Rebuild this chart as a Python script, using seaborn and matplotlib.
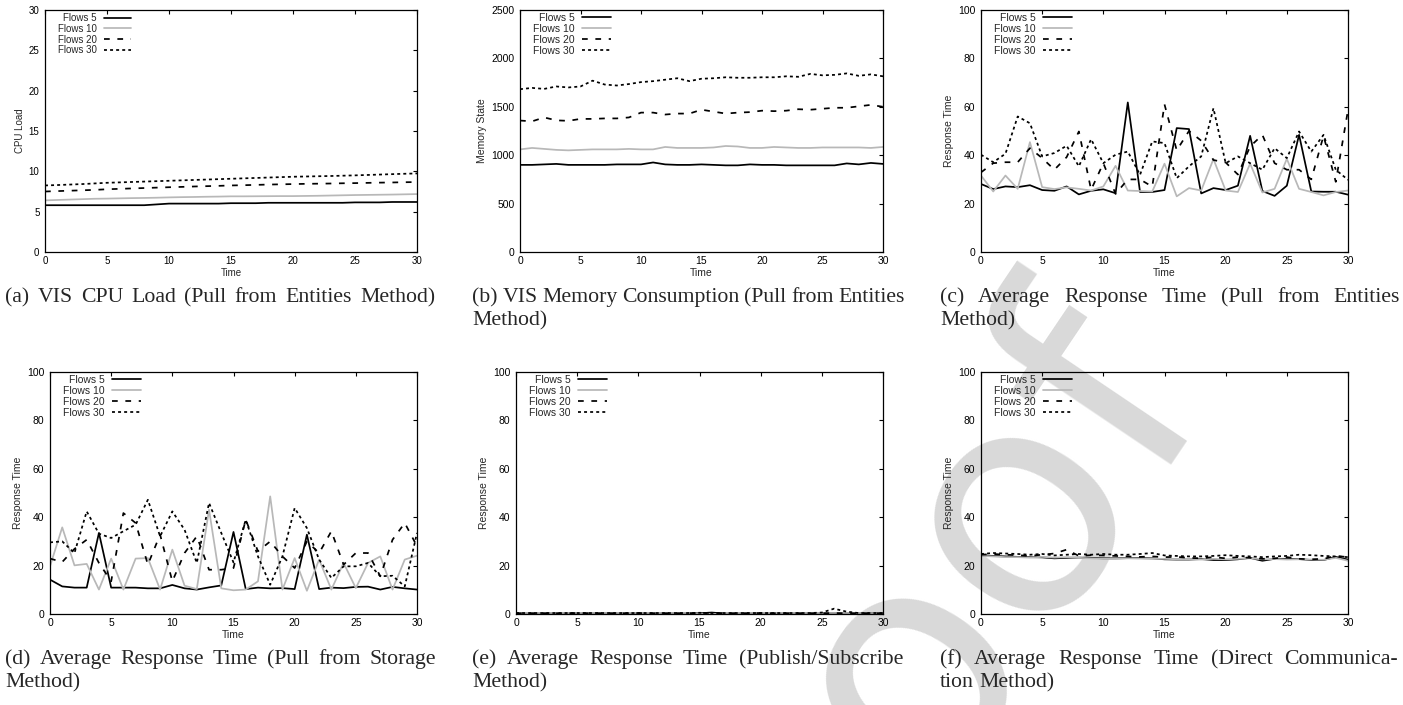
import matplotlib
matplotlib.use("Agg")
import matplotlib.pyplot as plt
import seaborn as sns
import pandas as pd

# ---------------- data ----------------
time = list(range(31))
series_names = ["Flows 5", "Flows 10", "Flows 20", "Flows 30"]

cpu_f5 = [5.8, 5.8, 5.8, 5.8, 5.8, 5.8, 5.8, 5.8, 5.8, 5.9, 6.0, 6.0, 6.0, 6.0, 6.0, 6.05,
          6.05, 6.05, 6.1, 6.1, 6.1, 6.1, 6.1, 6.1, 6.1, 6.15, 6.15, 6.15, 6.2, 6.2, 6.2]
cpu_f10 = [6.4, 6.45, 6.5, 6.55, 6.6, 6.62, 6.65, 6.68, 6.7, 6.73, 6.77, 6.8, 6.82, 6.85, 6.87,
           6.9, 6.9, 6.91, 6.92, 6.93, 6.93, 6.95, 6.97, 7.0, 7.03, 7.06, 7.08, 7.1, 7.12, 7.15, 7.18]
cpu_f20 = [7.5, 7.55, 7.6, 7.65, 7.7, 7.78, 7.83, 7.88, 7.93, 7.98, 8.03, 8.07, 8.12, 8.16, 8.2,
           8.25, 8.28, 8.32, 8.36, 8.39, 8.42, 8.45, 8.47, 8.49, 8.52, 8.54, 8.57, 8.6, 8.62, 8.65, 8.67]
cpu_f30 = [8.25, 8.3, 8.36, 8.42, 8.5, 8.58, 8.63, 8.68, 8.73, 8.78, 8.83, 8.88, 8.93, 8.98, 9.03,
           9.08, 9.13, 9.18, 9.23, 9.28, 9.33, 9.36, 9.39, 9.42, 9.46, 9.5, 9.55, 9.6, 9.65, 9.7, 9.74]

mem_f5 = [900, 900, 905, 910, 900, 900, 900, 900, 905, 905, 905, 925, 905, 900, 900, 905,
          900, 895, 895, 905, 900, 900, 895, 895, 895, 895, 895, 915, 905, 920, 910]
mem_f10 = [1060, 1075, 1065, 1055, 1050, 1055, 1060, 1060, 1060, 1065, 1060, 1060, 1085, 1075,
           1075, 1075, 1080, 1095, 1090, 1075, 1075, 1085, 1080, 1075, 1075, 1080, 1080, 1080,
           1080, 1075, 1085]
mem_f20 = [1358, 1350, 1390, 1360, 1355, 1375, 1375, 1380, 1380, 1390, 1440, 1440, 1420, 1430,
           1430, 1470, 1450, 1430, 1440, 1445, 1460, 1455, 1460, 1475, 1470, 1480, 1490, 1490,
           1505, 1520, 1500]
mem_f30 = [1682, 1695, 1685, 1710, 1700, 1710, 1770, 1730, 1720, 1735, 1755, 1765, 1780, 1795,
           1765, 1790, 1795, 1805, 1800, 1800, 1805, 1805, 1815, 1810, 1840, 1825, 1830, 1845,
           1820, 1835, 1815]

ent_f5 = [28.1, 26.0, 27.1, 26.8, 27.6, 25.6, 25.3, 27.1, 23.8, 25.3, 25.9, 24.3, 61.8, 24.8,
          24.8, 25.6, 51.2, 50.8, 24.2, 26.4, 25.6, 27.4, 48.0, 25.2, 23.2, 27.4, 48.4, 25.0,
          24.9, 24.9, 23.7]
ent_f10 = [31.6, 25.0, 31.6, 26.1, 45.4, 26.8, 26.0, 26.7, 26.1, 25.4, 27.1, 35.6, 25.4, 25.2,
           25.0, 36.5, 23.0, 26.4, 25.4, 38.4, 25.4, 24.8, 36.5, 24.6, 26.1, 38.5, 26.1, 24.8,
           23.4, 24.8, 25.4]
ent_f20 = [32.9, 36.7, 37.1, 37.1, 42.9, 38.8, 34.0, 39.2, 49.8, 25.7, 36.7, 24.0, 30.0, 30.0,
           27.0, 61.0, 42.0, 50.0, 46.0, 38.0, 37.0, 32.0, 43.6, 48.4, 36.7, 34.0, 34.0, 30.0,
           48.0, 29.0, 58.7]
ent_f30 = [40.2, 37.1, 40.6, 56.0, 53.2, 39.5, 40.9, 43.9, 35.4, 46.6, 36.7, 40.2, 41.5, 31.9,
           45.7, 45.0, 30.5, 35.4, 39.5, 59.4, 36.7, 39.5, 36.7, 34.0, 42.9, 38.8, 49.8, 41.5,
           48.4, 34.0, 29.8]

sto_f5 = [14.2, 11.4, 10.9, 10.9, 33.5, 10.9, 10.9, 10.9, 10.6, 10.6, 12.0, 10.6, 10.1, 11.0,
          11.8, 33.9, 10.3, 10.9, 10.6, 10.7, 10.3, 32.8, 10.3, 10.9, 10.7, 11.2, 11.3, 10.1,
          11.2, 10.6, 10.1]
sto_f10 = [19.7, 35.8, 20.1, 20.7, 10.1, 22.9, 10.1, 22.9, 23.1, 10.1, 26.6, 11.7, 10.3, 43.1,
           10.6, 9.8, 10.1, 13.5, 48.6, 10.1, 23.1, 9.6, 22.5, 10.1, 21.1, 10.7, 21.1, 23.8,
           10.1, 22.5, 24.1]
sto_f20 = [22.9, 21.5, 26.9, 30.7, 21.1, 13.5, 41.7, 37.6, 20.4, 32.8, 13.5, 25.2, 32.1, 18.3,
           18.3, 19.0, 39.0, 25.9, 30.0, 23.8, 19.0, 30.0, 25.2, 34.2, 20.4, 25.2, 25.2, 15.6,
           30.7, 37.6, 28.0]
sto_f30 = [29.6, 30.0, 25.2, 42.4, 33.2, 31.4, 34.2, 36.9, 47.2, 32.1, 42.4, 34.8, 21.1, 45.9,
           33.5, 21.3, 39.0, 23.8, 12.1, 23.8, 43.8, 35.5, 22.5, 14.9, 19.7, 19.7, 21.1, 15.6,
           15.8, 11.4, 33.5]

pub_f5 = [0.2, 0.2, 0.2, 0.2, 0.2, 0.2, 0.2, 0.2, 0.2, 0.2, 0.2, 0.2, 0.2, 0.2, 0.2, 0.3,
          0.6, 0.2, 0.2, 0.2, 0.2, 0.2, 0.2, 0.2, 0.2, 0.2, 0.2, 0.2, 0.2, 0.2, 0.2]
pub_f10 = [0.15, 0.15, 0.15, 0.15, 0.15, 0.15, 0.15, 0.15, 0.15, 0.15, 0.15, 0.15, 0.15, 0.15,
           0.15, 0.15, 0.15, 0.15, 0.15, 0.15, 0.15, 0.15, 0.15, 0.15, 0.15, 0.15, 0.15, 0.15,
           0.15, 0.15, 0.15]
pub_f20 = [0.3, 0.3, 0.3, 0.3, 0.3, 0.4, 0.3, 0.3, 0.3, 0.3, 0.4, 0.3, 0.3, 0.3, 0.3, 0.4,
           0.5, 0.3, 0.3, 0.3, 0.4, 0.3, 0.3, 0.3, 0.3, 0.3, 0.4, 0.3, 0.3, 0.3, 0.3]
pub_f30 = [0.4, 0.4, 0.4, 0.4, 0.4, 0.4, 0.4, 0.4, 0.4, 0.4, 0.4, 0.4, 0.4, 0.4, 0.4, 0.5,
           0.4, 0.4, 0.4, 0.4, 0.4, 0.4, 0.4, 0.4, 0.4, 0.6, 2.2, 1.0, 0.4, 0.4, 0.4]

dir_f5 = [24.2, 24.0, 23.8, 23.6, 23.5, 23.4, 23.0, 23.2, 23.3, 23.2, 23.0, 23.0, 23.1, 23.1,
          23.0, 22.6, 22.5, 22.5, 22.7, 22.3, 22.3, 22.6, 23.2, 22.0, 22.8, 22.8, 22.7, 22.3,
          22.3, 23.6, 22.5]
dir_f10 = [24.0, 23.8, 23.5, 23.5, 23.3, 23.6, 23.3, 23.5, 23.2, 23.0, 22.8, 22.8, 23.0, 22.9,
           22.8, 22.8, 22.6, 22.6, 22.5, 22.8, 22.6, 22.8, 23.0, 22.6, 22.7, 22.5, 22.6, 22.5,
           22.4, 23.2, 22.0]
dir_f20 = [24.5, 24.8, 24.5, 24.3, 24.0, 24.5, 25.0, 26.6, 24.0, 24.3, 24.2, 24.0, 23.8, 23.6,
           23.8, 23.5, 23.6, 23.2, 23.0, 23.5, 23.0, 23.5, 23.2, 22.8, 23.0, 23.5, 22.8, 22.6,
           22.8, 24.0, 23.5]
dir_f30 = [24.8, 25.2, 25.0, 24.8, 24.5, 24.8, 24.2, 24.5, 24.8, 24.5, 24.8, 24.5, 24.5, 24.8,
           25.2, 24.2, 24.0, 23.8, 23.8, 24.0, 24.3, 24.0, 23.8, 23.5, 23.8, 24.0, 24.5, 24.3,
           24.0, 23.8, 23.5]

x_ticks = [0, 5, 10, 15, 20, 25, 30]
cpu_ticks = [0, 5, 10, 15, 20, 25, 30]
mem_ticks = [0, 500, 1000, 1500, 2000, 2500]
rt_ticks = [0, 20, 40, 60, 80, 100]

captions = [
    ["(a) VIS CPU Load (Pull from Entities Method)"],
    ["(b) VIS Memory Consumption (Pull from Entities", "Method)"],
    ["(c) Average Response Time (Pull from Entities", "Method)"],
    ["(d) Average Response Time (Pull from Storage", "Method)"],
    ["(e) Average Response Time (Publish/Subscribe", "Method)"],
    ["(f) Average Response Time (Direct Communica-", "tion Method)"],
]

# ---------------- style ----------------
sns.set_style("white")
plt.rcParams["font.family"] = ["Liberation Sans", "DejaVu Sans"]
plt.rcParams["axes.linewidth"] = 0.9

palette = {"Flows 5": "#000000", "Flows 10": "#b8b8b8",
           "Flows 20": "#000000", "Flows 30": "#000000"}
dash_map = {"Flows 5": "", "Flows 10": "", "Flows 20": (3.3, 4.4), "Flows 30": (1.7, 1.8)}

W, H = 1403, 705
fig = plt.figure(figsize=(W / 100, H / 100), dpi=100)

# "Proof" watermark of the page
fig.text(750 / W, 1 - 1043 / H, "Proof", rotation=56, rotation_mode="anchor",
         ha="left", va="baseline", fontsize=228, color="#d9d9d9",
         family="DejaVu Sans", zorder=-5)


def make_df(cols):
    frames = []
    for name, vals in zip(series_names, cols):
        frames.append(pd.DataFrame({"Time": time, "Value": vals, "Series": name}))
    return pd.concat(frames, ignore_index=True)


panels = [
    ((45, 417, 10, 252), [cpu_f5, cpu_f10, cpu_f20, cpu_f30], "CPU Load", cpu_ticks, 7.0),
    ((520, 883, 10, 252), [mem_f5, mem_f10, mem_f20, mem_f30], "Memory State", mem_ticks, 7.5),
    ((981, 1348, 10, 252), [ent_f5, ent_f10, ent_f20, ent_f30], "Response Time", rt_ticks, 7.5),
    ((50, 417, 372, 614), [sto_f5, sto_f10, sto_f20, sto_f30], "Response Time", rt_ticks, 7.5),
    ((516, 883, 372, 614), [pub_f5, pub_f10, pub_f20, pub_f30], "Response Time", rt_ticks, 7.5),
    ((981, 1348, 372, 614), [dir_f5, dir_f10, dir_f20, dir_f30], "Response Time", rt_ticks, 7.5),
]

for (l, r, t, b), cols, ylab, yt, fs in panels:
    ax = fig.add_axes([l / W, 1 - b / H, (r - l) / W, (b - t) / H])
    ax.set_facecolor("none")
    df = make_df(cols)
    sns.lineplot(data=df, x="Time", y="Value", hue="Series", style="Series",
                 hue_order=series_names, style_order=series_names,
                 palette=palette, dashes=dash_map, linewidth=1.25,
                 estimator=None, ax=ax, legend=False)
    ax.set_xlim(0, 30)
    ax.set_ylim(yt[0], yt[-1])
    ax.set_xticks(x_ticks)
    ax.set_yticks(yt)
    ax.tick_params(direction="in", top=True, right=True, length=3, width=0.8,
                   labelsize=fs, pad=3, colors="black")
    ax.tick_params(axis="y", pad=4)
    ax.set_xlabel("Time", fontsize=fs, labelpad=1)
    ax.set_ylabel(ylab, fontsize=fs, labelpad=3)
    for s in ax.spines.values():
        s.set_color("black")
    wpx, hpx = r - l, b - t
    ax.legend(ax.get_lines()[:4], series_names, loc="upper left",
              bbox_to_anchor=(13 / wpx, 1 - 3 / hpx), borderpad=0, borderaxespad=0,
              frameon=False, markerfirst=False, handlelength=2.8, handletextpad=0.7,
              labelspacing=0.08, fontsize=fs)

# ---------------- captions (justified like the paper) ----------------
renderer = fig.canvas.get_renderer()
serif = "Liberation Serif"

probe = fig.text(0, 0, captions[0][0], fontsize=16, family=serif)
fw = probe.get_window_extent(renderer).width
probe.remove()
cap_fs = 16 * 430 / fw * 0.955

sp = fig.text(0, 0, "a a", fontsize=cap_fs, family=serif)
sp2 = fig.text(0, 0, "aa", fontsize=cap_fs, family=serif)
space_w = sp.get_window_extent(renderer).width - sp2.get_window_extent(renderer).width
sp.remove()
sp2.remove()


def put_line(text, x0, x1, y_base, justify):
    words = text.split(" ")
    objs = [fig.text(0, 0, w, fontsize=cap_fs, family=serif, ha="left", va="baseline")
            for w in words]
    widths = [o.get_window_extent(renderer).width for o in objs]
    if justify and len(words) > 1:
        gap = (x1 - x0 - sum(widths)) / (len(words) - 1)
    else:
        gap = space_w
    x = x0
    for o, w in zip(objs, widths):
        o.set_position((x / W, 1 - y_base / H))
        x += w + gap


cap_cols = [(5, 435), (472, 905), (940, 1400), (5, 436), (472, 903), (940, 1398)]
cap_base = [302, 302, 302, 664, 664, 664]
for i, lines in enumerate(captions):
    x0, x1 = cap_cols[i]
    for j, line in enumerate(lines):
        justify = (j < len(lines) - 1) or len(lines) == 1
        put_line(line, x0, x1, cap_base[i] + 23 * j, justify)

fig.savefig("out.png", dpi=100)
